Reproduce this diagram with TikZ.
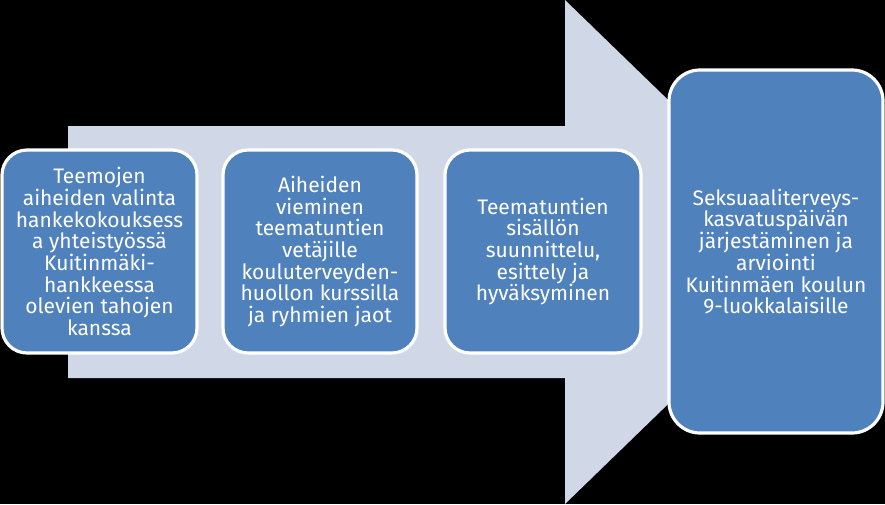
\documentclass[tikz,border=0pt]{standalone}
\usepackage{fontspec}
\setmainfont{Fira Sans}
\definecolor{arrowfill}{RGB}{208,215,230}
\definecolor{boxfill}{RGB}{79,129,189}
\tikzset{
  stepbox/.style={draw=white, line width=3.2pt, fill=boxfill, rounded corners=25pt,
    text=white, align=center, inner sep=0pt, minimum width=195pt, minimum height=203pt,
    font={\fontsize{21}{21.7}\selectfont}},
}
\begin{document}
\begin{tikzpicture}[x=1pt,y=-1pt]
\fill[black] (0,0) rectangle (885,504);
\useasboundingbox (0,0) rectangle (885,504);
% big arrow
\fill[arrowfill] (68,126) -- (565,126) -- (565,0) -- (825,252) -- (565,504) -- (565,378) -- (68,378) -- cycle;
% boxes
\node[stepbox] (b1) at (99.5,251.5) {Teemojen\\aiheiden valinta\\hankekokouksess\\a yhteistyössä\\Kuitinmäki-\\hankkeessa\\olevien tahojen\\kanssa};
\node[stepbox, minimum width=194pt] (b2) at (320,251.5) {Aiheiden\\vieminen\\teematuntien\\vetäjille\\kouluterveyden-\\huollon kurssilla\\ja ryhmien jaot};
\node[stepbox, minimum width=196pt] (b3) at (543,251.5) {Teematuntien\\sisällön\\suunnittelu,\\esittely ja\\hyväksyminen};
\node[stepbox, rounded corners=31pt, minimum width=214pt, minimum height=363pt] (b4) at (776,251.5) {Seksuaaliterveys-\\kasvatuspäivän\\järjestäminen ja\\arviointi\\Kuitinmäen koulun\\9-luokkalaisille};
\end{tikzpicture}
\end{document}
